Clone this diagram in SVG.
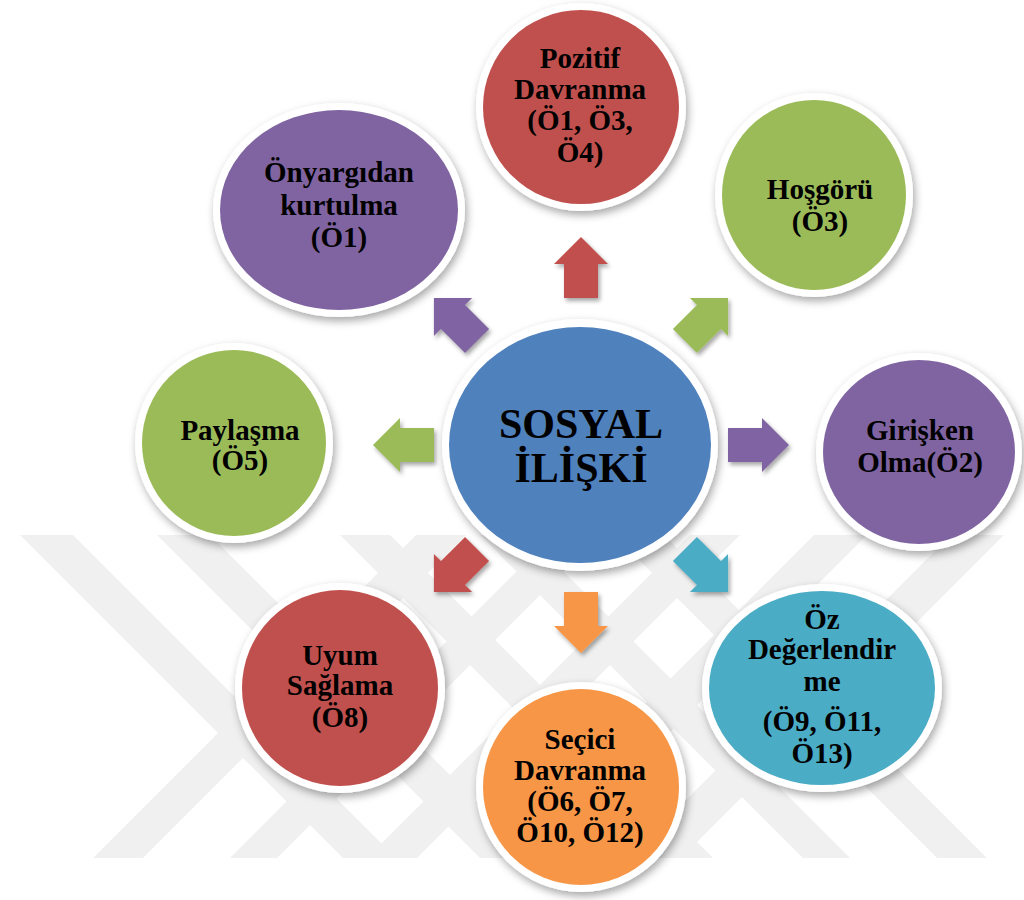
<svg xmlns="http://www.w3.org/2000/svg" width="1024" height="900" viewBox="0 0 1024 900">
  <defs>
    <filter id="nodeShadow" x="-20%" y="-20%" width="140%" height="140%">
      <feDropShadow dx="2" dy="4" stdDeviation="4" flood-color="#000" flood-opacity="0.35"/>
    </filter>
    <filter id="arrowShadow" x="-30%" y="-30%" width="160%" height="160%">
      <feDropShadow dx="2" dy="3" stdDeviation="2" flood-color="#000" flood-opacity="0.35"/>
    </filter>
    <clipPath id="wmClip">
      <rect x="0" y="535" width="1024" height="323"/>
    </clipPath>
    <!-- block arrow pointing up, placed above the hub; rotated for each direction -->
    <path id="arrowUp" d="M581,237 L608,264 L598,264 L598,298 L564,298 L564,264 L554,264 Z"/>
  </defs>
  <style>
    .ring { fill: #ffffff; filter: url(#nodeShadow); }
    .lbl { font-family: "Liberation Serif", "Times New Roman", serif; font-weight: bold; font-size: 29px; fill: #000; text-anchor: middle; }
    .hub { font-size: 42px; }
    .blue { fill: #4F81BD; }
    .red { fill: #C0504D; }
    .green { fill: #9BBB59; }
    .purple { fill: #8064A2; }
    .teal { fill: #4BACC6; }
    .orange { fill: #F79646; }
    .wm { fill: #f0f0f0; }
  </style>

  <rect width="1024" height="900" fill="#ffffff"/>

  <!-- faint background watermark stripes -->
  <g id="watermark" clip-path="url(#wmClip)">
    <polygon class="wm" points="20,535 73,535 396,858 343,858"/>
    <polygon class="wm" points="157,535 210,535 533,858 480,858"/>
    <polygon class="wm" points="93,858 143,858 466,535 416,535"/>
    <polygon class="wm" points="230,858 277,858 600,535 553,535"/>
    <polygon class="wm" points="367,858 417,858 740,535 690,535"/>
    <polygon class="wm" points="937,858 987,858 664,535 614,535"/>
    <polygon class="wm" points="803,858 850,858 527,535 480,535"/>
    <polygon class="wm" points="663,858 713,858 390,535 340,535"/>
    <polygon class="wm" points="1004,535 951,535 628,858 681,858"/>
    <polygon class="wm" points="867,535 814,535 491,858 544,858"/>
  </g>

  <!-- connectors: block arrows radiating from the hub -->
  <g id="connectors">
    <g filter="url(#arrowShadow)"><use href="#arrowUp" class="red"/></g>
    <g filter="url(#arrowShadow)"><use href="#arrowUp" class="green" transform="rotate(45 581 445)"/></g>
    <g filter="url(#arrowShadow)"><use href="#arrowUp" class="purple" transform="rotate(90 581 445)"/></g>
    <g filter="url(#arrowShadow)"><use href="#arrowUp" class="teal" transform="rotate(135 581 445)"/></g>
    <g filter="url(#arrowShadow)"><use href="#arrowUp" class="orange" transform="rotate(180 581 445)"/></g>
    <g filter="url(#arrowShadow)"><use href="#arrowUp" class="red" transform="rotate(225 581 445)"/></g>
    <g filter="url(#arrowShadow)"><use href="#arrowUp" class="green" transform="rotate(270 581 445)"/></g>
    <g filter="url(#arrowShadow)"><use href="#arrowUp" class="purple" transform="rotate(315 581 445)"/></g>
  </g>

  <g id="hub">
    <ellipse class="ring" cx="580" cy="445" rx="138" ry="126"/>
    <ellipse class="blue" cx="580" cy="445" rx="131" ry="118"/>
    <text class="lbl hub" x="581" y="438">SOSYAL</text>
    <text class="lbl hub" x="581" y="482">İLİŞKİ</text>
  </g>

  <g id="pozitif">
    <ellipse class="ring" cx="581" cy="107" rx="105" ry="104"/>
    <ellipse class="red" cx="581" cy="107" rx="98" ry="97"/>
    <text class="lbl" x="580" y="68">Pozitif</text>
    <text class="lbl" x="580" y="99">Davranma</text>
    <text class="lbl" x="580" y="130">(Ö1, Ö3,</text>
    <text class="lbl" x="580" y="162">Ö4)</text>
  </g>

  <g id="hosgoru">
    <ellipse class="ring" cx="814" cy="195" rx="99" ry="102"/>
    <ellipse class="green" cx="814" cy="195" rx="92" ry="95"/>
    <text class="lbl" x="820" y="199">Hoşgörü</text>
    <text class="lbl" x="820" y="231">(Ö3)</text>
  </g>

  <g id="giriskan">
    <ellipse class="ring" cx="919" cy="452" rx="103" ry="99"/>
    <ellipse class="purple" cx="919" cy="452" rx="96" ry="92"/>
    <text class="lbl" x="920" y="440">Girişken</text>
    <text class="lbl" x="920" y="472">Olma(Ö2)</text>
  </g>

  <g id="ozdegerlendirme">
    <ellipse class="ring" cx="822" cy="688" rx="120" ry="104"/>
    <ellipse class="teal" cx="822" cy="688" rx="113" ry="97"/>
    <text class="lbl" x="822" y="629">Öz</text>
    <text class="lbl" x="822" y="659">Değerlendir</text>
    <text class="lbl" x="822" y="691">me</text>
    <text class="lbl" x="822" y="731">(Ö9, Ö11,</text>
    <text class="lbl" x="822" y="763">Ö13)</text>
  </g>

  <g id="secici">
    <ellipse class="ring" cx="581" cy="787" rx="105" ry="105"/>
    <ellipse class="orange" cx="581" cy="787" rx="98" ry="98"/>
    <text class="lbl" x="580" y="749">Seçici</text>
    <text class="lbl" x="580" y="780">Davranma</text>
    <text class="lbl" x="580" y="811">(Ö6, Ö7,</text>
    <text class="lbl" x="580" y="842">Ö10, Ö12)</text>
  </g>

  <g id="uyum">
    <ellipse class="ring" cx="340" cy="688" rx="105" ry="105"/>
    <ellipse class="red" cx="340" cy="688" rx="98" ry="98"/>
    <text class="lbl" x="340" y="665">Uyum</text>
    <text class="lbl" x="340" y="695">Sağlama</text>
    <text class="lbl" x="340" y="727">(Ö8)</text>
  </g>

  <g id="paylasma">
    <ellipse class="ring" cx="234" cy="443" rx="99" ry="100"/>
    <ellipse class="green" cx="234" cy="443" rx="92" ry="93"/>
    <text class="lbl" x="240" y="440">Paylaşma</text>
    <text class="lbl" x="240" y="470">(Ö5)</text>
  </g>

  <g id="onyargi">
    <ellipse class="ring" cx="339" cy="210" rx="126" ry="107"/>
    <ellipse class="purple" cx="339" cy="210" rx="119" ry="100"/>
    <text class="lbl" x="339" y="182" font-size="32">Önyargıdan</text>
    <text class="lbl" x="339" y="215" font-size="32">kurtulma</text>
    <text class="lbl" x="339" y="247" font-size="32">(Ö1)</text>
  </g>
</svg>
